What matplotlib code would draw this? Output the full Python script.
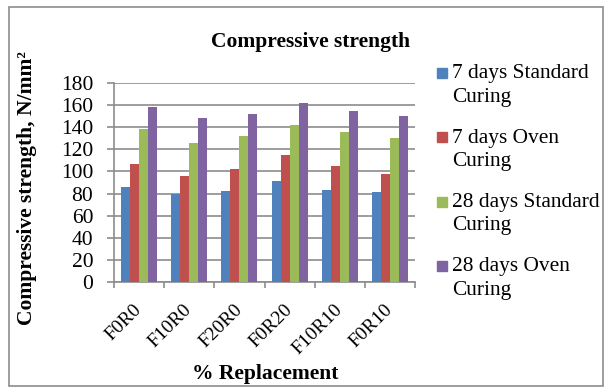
import numpy as np
import matplotlib
matplotlib.use("Agg")
import matplotlib.pyplot as plt
from matplotlib.patches import Rectangle

plt.rcParams['font.family'] = ['Liberation Serif', 'DejaVu Serif']

mixes = ["F0R0", "F10R0", "F20R0", "F0R20", "F10R10", "F0R10"]
std7 = [86, 80, 82, 91, 83, 81]
oven7 = [107, 96, 102, 115, 105, 98]
std28 = [138, 126, 132, 142, 136, 130]
oven28 = [158, 148, 152, 162, 155, 150]
labels = ["7 days Standard\nCuring", "7 days Oven\nCuring",
          "28 days Standard\nCuring", "28 days Oven\nCuring"]
colors = ["#4F81BD", "#C0504D", "#9BBB59", "#8064A2"]

W, H = 608, 389
fig = plt.figure(figsize=(W / 100, H / 100), dpi=100)
ax = fig.add_axes([114 / W, 1 - 282 / H, 301 / W, 199 / H])

x = np.arange(len(mixes))
w = 0.18
for i, (vals, c) in enumerate(zip([std7, oven7, std28, oven28], colors)):
    ax.bar(x + (i - 1.5) * w, vals, w, color=c, zorder=3)

grey = "#8c8c8c"
ax.set_ylim(0, 180)
ax.set_yticks(range(0, 181, 20))
ax.set_xlim(-0.5, len(mixes) - 0.5)
ax.yaxis.grid(True, color=grey, linewidth=1.2, zorder=0)
for s in ["top", "right"]:
    ax.spines[s].set_visible(False)
ax.spines["left"].set_color(grey)
ax.spines["bottom"].set_color(grey)
ax.spines["left"].set_linewidth(1.2)
ax.spines["bottom"].set_linewidth(1.2)
ax.tick_params(axis="y", length=5, width=1.2, color=grey, labelsize=15.5, pad=10)
ax.set_xticks(np.arange(-0.5, len(mixes)), minor=True)
ax.set_xticks(x)
ax.tick_params(axis="x", which="minor", length=4, width=1.2, color=grey, direction="out")
ax.tick_params(axis="x", which="major", length=0, labelsize=14, pad=18)
ax.set_xticklabels(mixes, rotation=45, ha="right", va="center", rotation_mode="anchor")

fig.text(311 / W, 1 - 42 / H, "Compressive strength", fontsize=15.5, fontweight="bold",
         ha="center", va="center")
fig.text(265 / W, 1 - 374 / H, "% Replacement", fontsize=15.5, fontweight="bold",
         ha="center", va="center")
fig.text(27 / W, 1 - 188 / H, "Compressive strength, N/mm²", fontsize=15.5,
         fontweight="bold", rotation=90, ha="center", va="center")

# legend: square marker level with first line of each two-line label
for i, (lab, c) in enumerate(zip(labels, colors)):
    yc = 73 + 64.3 * i
    fig.patches.append(Rectangle((437 / W, 1 - (yc + 5) / H), 10 / W, 10 / H,
                                 transform=fig.transFigure, color=c))
    fig.text(452 / W, 1 - (yc + 12.5) / H, lab, fontsize=15.4, ha="left", va="center",
             linespacing=1.3)

fig.patches.append(Rectangle((9 / W, 3 / H), 594 / W, 379 / H, transform=fig.transFigure,
                             fill=False, edgecolor=grey, linewidth=1.2))

fig.savefig("out.png", dpi=100)
